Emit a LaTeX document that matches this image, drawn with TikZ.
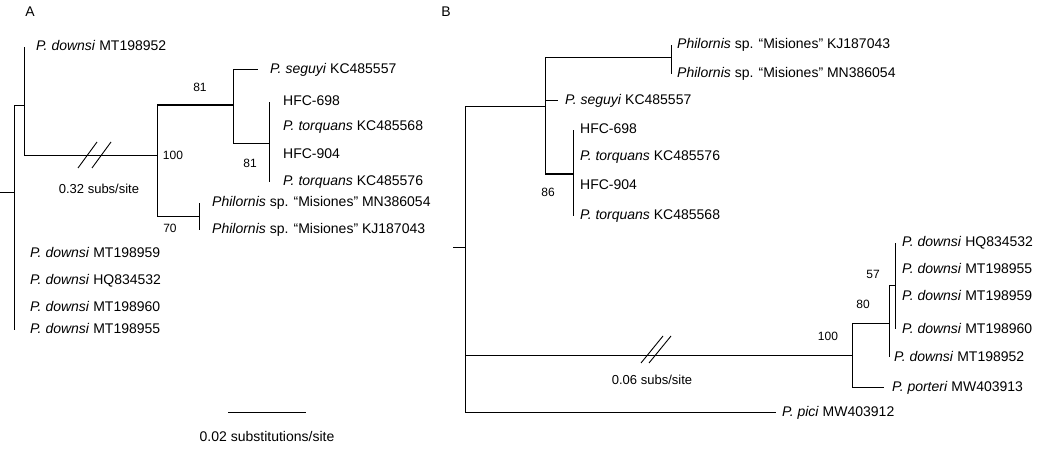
\documentclass[tikz,border=0pt]{standalone}
\usepackage{fontspec}
\setmainfont{Liberation Sans}
\usetikzlibrary{positioning}

\begin{document}
\begin{tikzpicture}
[x=1pt,y=-1pt,
  branchdecorate/.style={-,line width=1pt,to path={|- (\tikztotarget)}},%
  tipdecorate/.style={inner sep=0pt,text height=10pt,text depth=2pt,font=\fontsize{14}{16}\selectfont},%
  supportdecorate/.style={inner sep=0pt,font=\fontsize{12}{14}\selectfont},%
  lengthdecorate/.style={inner sep=0pt,font=\fontsize{13}{15}\selectfont},%
  breakdecorate/.style={-,line width=0.9pt}]
\useasboundingbox (0,0) rectangle (1042,449);
%% panel letters
\node (panelA) at (30,13) [tipdecorate] {A};
\node (panelB) at (446,13) [tipdecorate] {B};
%% tree A: nodes or vertices
\foreach \nodename/\x/\y in {rA0/0/193, rA/14/193, nA1/24/106, nA2/157/156,
  nA3/233/105, nA4/269/144, nA5/199/217, a1/24/47, a2/258/70, a3/269/102,
  a4/269/127, a5/269/155, a6/269/182, a7/199/203, a8/199/230, a9/14/254,
  a10/14/281, a11/14/307, a12/14/330} {
  \coordinate (\nodename) at (\x,\y);
}
%% tree B: nodes or vertices
\foreach \nodename/\x/\y in {rB0/453/248, rB/465/248, nB1/545/107, nB2/671/58,
  nB3/573/174, nB4/852/355, nB5/889/323, nB6/895/286, b1/671/45, b2/671/74,
  b3/558/101, b4/573/130, b5/573/157, b6/573/186, b7/573/216, b8/895/243,
  b9/895/269, b10/895/297, b11/895/329, b12/889/357, b13/884/387, b14/776/412} {
  \coordinate (\nodename) at (\x,\y);
}
%% edges or branches
\path
\foreach \startnode/\endnode in {rA0/rA, rA/nA1, rA/a9, rA/a10, rA/a11, rA/a12,
  nA1/a1, nA1/nA2, nA2/nA3, nA2/nA5, nA3/a2, nA3/nA4, nA4/a3, nA4/a4, nA4/a5,
  nA4/a6, nA5/a7, nA5/a8, rB0/rB, rB/nB1, rB/nB4, rB/b14, nB1/nB2, nB1/b3,
  nB1/nB3, nB2/b1, nB2/b2, nB3/b4, nB3/b5, nB3/b6, nB3/b7, nB4/nB5, nB4/b13,
  nB5/nB6, nB5/b12, nB6/b8, nB6/b9, nB6/b10, nB6/b11}
{
  (\startnode) edge[branchdecorate] (\endnode)
};
%% heavier stems
\draw[line width=1.8pt] (nA2 |- nA3) -- (nA3);
\draw[line width=1.8pt] (nB1 |- nB3) -- (nB3);
%% tip labels
\foreach \leafname/\dist/\leaftext in {a1/12/{\textit{P. downsi} MT198952},
  a2/12/{\textit{P. seguyi} KC485557}, a3/14/{HFC-698},
  a4/14/{\textit{P. torquans} KC485568}, a5/14/{HFC-904},
  a6/14/{\textit{P. torquans} KC485576},
  a7/13/{\textit{Philornis} sp. “Misiones” MN386054},
  a8/13/{\textit{Philornis} sp. “Misiones” KJ187043},
  a9/16/{\textit{P. downsi} MT198959}, a10/16/{\textit{P. downsi} HQ834532},
  a11/16/{\textit{P. downsi} MT198960}, a12/16/{\textit{P. downsi} MT198955},
  b1/6/{\textit{Philornis} sp. “Misiones” KJ187043},
  b2/6/{\textit{Philornis} sp. “Misiones” MN386054},
  b3/7/{\textit{P. seguyi} KC485557}, b4/7/{HFC-698},
  b5/7/{\textit{P. torquans} KC485576}, b6/7/{HFC-904},
  b7/7/{\textit{P. torquans} KC485568}, b8/7/{\textit{P. downsi} HQ834532},
  b9/7/{\textit{P. downsi} MT198955}, b10/7/{\textit{P. downsi} MT198959},
  b11/7/{\textit{P. downsi} MT198960}, b12/5/{\textit{P. downsi} MT198952},
  b13/8/{\textit{P. porteri} MW403913}, b14/6/{\textit{P. pici} MW403912}} {
  \node (l\leafname) [tipdecorate,right=\dist pt of \leafname] {\leaftext};
}
%% bootstrap values
\foreach \nodename/\x/\y/\value in {sA1/200/87/81, sA2/173/155/100,
  sA3/250/163/81, sA4/170/228/70, sB1/548/192/86, sB2/828/336/100,
  sB3/863/304/80, sB4/873/274/57} {
  \node (\nodename) at (\x,\y) [supportdecorate] {\value};
}
%% broken branches
\foreach \nodename/\x/\y in {kA1s/78/168, kA1e/97/142, kA2s/92/168, kA2e/111/142,
  kB1s/641/363, kB1e/663/336, kB2s/649/363, kB2e/671/336} {
  \coordinate (\nodename) at (\x,\y);
}
\draw[breakdecorate] (kA1s) -- (kA1e) (kA2s) -- (kA2e)
  (kB1s) -- (kB1e) (kB2s) -- (kB2e);
\node (lenA) at (99,189) [lengthdecorate] {0.32 subs/site};
\node (lenB) at (652,380) [lengthdecorate] {0.06 subs/site};
%% scale bar
\coordinate (bar1) at (228,412);
\coordinate (bar2) at (306,412);
\draw[line width=1pt] (bar1) -- (bar2);
\node (barlabel) at (267,437) [tipdecorate] {0.02 substitutions/site};
\end{tikzpicture}
\end{document}
